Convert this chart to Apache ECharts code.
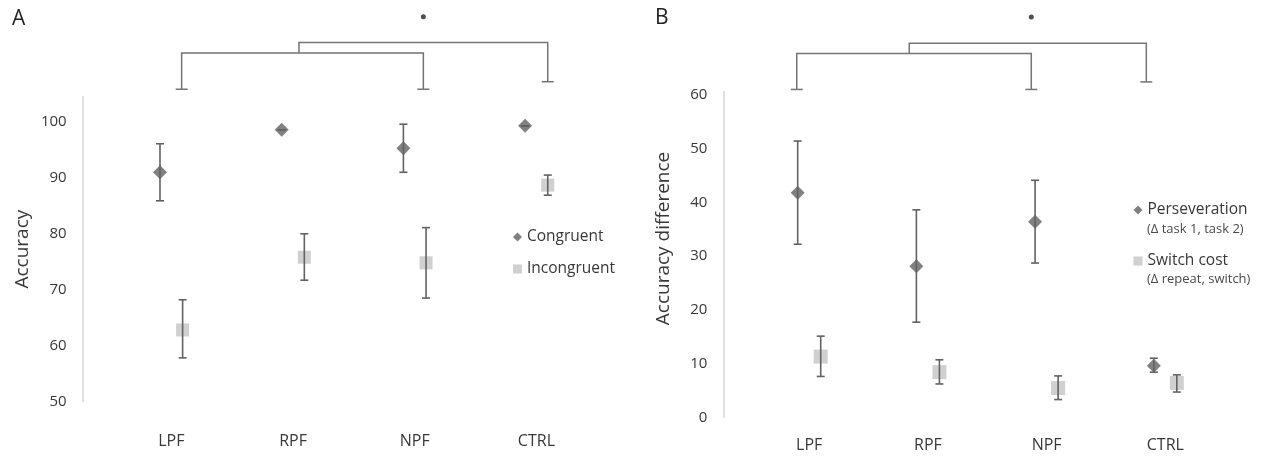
<!DOCTYPE html>
<html lang="en">
  <head>
    <meta charset="UTF-8" />
    <title>Accuracy by lesion group</title>
    <script src="https://cdn.jsdelivr.net/npm/echarts@6/dist/echarts.min.js"></script>
    <style>
      html, body { margin: 0; padding: 0; background: #fff; }
      #main { width: 1267px; height: 456px; }
    </style>
  </head>
  <body>
    <div id="main"></div>
    <script>
      // groups on the x axis (both panels)
      var categories = ["LPF", "RPF", "NPF", "CTRL"];

      // panel A - accuracy
      var congruentMean = [91.0, 98.6, 95.3, 99.3];
      var congruentLow = [85.9, 98.6, 91.0, 99.3];
      var congruentHigh = [96.1, 98.6, 99.6, 99.3];
      var incongruentMean = [62.8, 75.8, 74.8, 88.7];
      var incongruentLow = [57.8, 71.7, 68.5, 86.9];
      var incongruentHigh = [68.2, 80.0, 81.1, 90.5];

      // panel B - accuracy difference
      var persevMean = [41.8, 28.1, 36.4, 9.6];
      var persevLow = [32.2, 17.7, 28.7, 8.4];
      var persevHigh = [51.4, 38.6, 44.1, 11.0];
      var switchMean = [11.3, 8.4, 5.45, 6.4];
      var switchLow = [7.6, 6.2, 3.3, 4.7];
      var switchHigh = [15.1, 10.7, 7.7, 7.9];

      // significance brackets: [xStart, yStart, xEnd, yEnd, level, capStart, capEnd]
      var bracketsA = [
        [1.085, 105.85, 3.071, 105.85, 112.35, 1, 1],
        [2.049, 112.35, 4.093, 107.2, 114.2, 0, 1]
      ];
      var starA = [[3.071, 118.8]];
      var bracketsB = [
        [0.895, 61.0, 2.871, 61.0, 67.7, 1, 1],
        [1.843, 67.7, 3.84, 62.4, 69.6, 0, 1]
      ];
      var starB = [[2.871, 74.5]];

      var FONT = "Open Sans";
      var TEXT = "#383838";
      var DARK = "#626262";
      var LIGHT = "#c4c4c4";
      var OFF_A = 0.093;
      var OFF_B = 0.097;

      function points(mean, off) {
        return mean.map((v, i) => [i + 1 + off, v]);
      }
      function bars(low, high, off) {
        return low.map((v, i) => [i + 1 + off, v, high[i]]);
      }

      function renderErr(params, api) {
        var x = api.value(0);
        var p1 = api.coord([x, api.value(1)]);
        var p2 = api.coord([x, api.value(2)]);
        var w = 4;
        var st = { stroke: DARK, lineWidth: 1.6 };
        return {
          type: "group",
          children: [
            { type: "line", shape: { x1: p1[0], y1: p1[1], x2: p2[0], y2: p2[1] }, style: st },
            { type: "line", shape: { x1: p1[0] - w, y1: p1[1], x2: p1[0] + w, y2: p1[1] }, style: st },
            { type: "line", shape: { x1: p2[0] - w, y1: p2[1], x2: p2[0] + w, y2: p2[1] }, style: st }
          ]
        };
      }

      function renderBracket(params, api) {
        var a = api.coord([api.value(0), api.value(1)]);
        var aTop = api.coord([api.value(0), api.value(4)]);
        var b = api.coord([api.value(2), api.value(3)]);
        var bTop = api.coord([api.value(2), api.value(4)]);
        var st = { stroke: "#747474", lineWidth: 1.5, fill: null };
        var kids = [
          {
            type: "polyline",
            shape: { points: [a, aTop, bTop, b] },
            style: st
          }
        ];
        var w = 6;
        if (api.value(5))
          kids.push({ type: "line", shape: { x1: a[0] - w, y1: a[1], x2: a[0] + w, y2: a[1] }, style: st });
        if (api.value(6))
          kids.push({ type: "line", shape: { x1: b[0] - w, y1: b[1], x2: b[0] + w, y2: b[1] }, style: st });
        return { type: "group", children: kids };
      }

      function xAxis(idx, min, max, margin) {
        return {
          gridIndex: idx,
          type: "value",
          min: min,
          max: max,
          axisLine: { show: false },
          axisTick: { show: false },
          splitLine: { show: false },
          axisLabel: {
            customValues: [1, 2, 3, 4],
            formatter: v => categories[Math.round(v) - 1],
            margin: margin,
            fontFamily: FONT,
            fontSize: 16,
            lineHeight: 18,
            color: TEXT
          }
        };
      }

      function yAxis(idx, min, max, name, gap, pad) {
        return {
          gridIndex: idx,
          type: "value",
          min: min,
          max: max,
          interval: 10,
          name: name,
          nameLocation: "middle",
          nameGap: gap,
          nameTextStyle: { fontFamily: FONT, fontSize: 19, color: TEXT, padding: pad },
          axisLine: { show: true, lineStyle: { color: "#d6d6d6", width: 1.5 } },
          axisTick: { show: false },
          splitLine: { show: false },
          axisLabel: {
            showMaxLabel: false,
            margin: 16,
            fontFamily: FONT,
            fontSize: 15,
            color: TEXT
          }
        };
      }

      var chart = echarts.init(document.getElementById("main"));
      chart.setOption({
        animation: false,
        textStyle: { fontFamily: FONT },
        grid: [
          { left: 82.7, top: 96.8, width: 537.7, height: 304.7 },
          { left: 723.3, top: 91.6, width: 542.9, height: 325.7 }
        ],
        xAxis: [xAxis(0, 0.272, 4.69, 31), xAxis(1, 0.2763, 4.85, 19)],
        yAxis: [
          yAxis(0, 50, 104.5, "Accuracy", 51, 0),
          yAxis(1, 0, 60.6, "Accuracy difference", 50, [0, 0, 0, 32])
        ],
        legend: [
          {
            left: 513,
            top: 228,
            orient: "vertical",
            padding: 0,
            itemWidth: 9,
            itemHeight: 9,
            itemGap: 14,
            textStyle: { fontFamily: FONT, fontSize: 15.5, lineHeight: 18, color: TEXT },
            data: [
              { name: "Congruent", icon: "diamond" },
              { name: "Incongruent", icon: "rect" }
            ]
          },
          {
            left: 1133.5,
            top: 201,
            orient: "vertical",
            padding: 0,
            itemWidth: 9,
            itemHeight: 9,
            itemGap: 33,
            textStyle: { fontFamily: FONT, fontSize: 15.5, lineHeight: 18, color: TEXT },
            data: [
              { name: "Perseveration", icon: "diamond" },
              { name: "Switch cost", icon: "rect" }
            ]
          }
        ],
        graphic: [
          { type: "text", left: 12, top: 9, style: { text: "A", font: "21px " + FONT, fill: "#222" } },
          { type: "text", left: 655, top: 8, style: { text: "B", font: "21px " + FONT, fill: "#222" } },
          { type: "text", left: 1147, top: 223, style: { text: "(\u0394 task 1, task 2)", font: "13px " + FONT, fill: "#4a4a4a" } },
          { type: "text", left: 1147, top: 273, style: { text: "(\u0394 repeat, switch)", font: "13px " + FONT, fill: "#4a4a4a" } }
        ],
        series: [
          {
            name: "Incongruent",
            type: "scatter",
            xAxisIndex: 0,
            yAxisIndex: 0,
            symbol: "rect",
            symbolSize: 13,
            itemStyle: { color: LIGHT },
            data: points(incongruentMean, OFF_A)
          },
          {
            name: "Congruent",
            type: "scatter",
            xAxisIndex: 0,
            yAxisIndex: 0,
            symbol: "diamond",
            symbolSize: 14,
            itemStyle: { color: DARK },
            data: points(congruentMean, -OFF_A)
          },
          {
            type: "custom",
            xAxisIndex: 0,
            yAxisIndex: 0,
            renderItem: renderErr,
            z: 3,
            data: bars(congruentLow, congruentHigh, -OFF_A).concat(bars(incongruentLow, incongruentHigh, OFF_A))
          },
          {
            type: "custom",
            xAxisIndex: 0,
            yAxisIndex: 0,
            clip: false,
            renderItem: renderBracket,
            data: bracketsA
          },
          {
            type: "scatter",
            xAxisIndex: 0,
            yAxisIndex: 0,
            clip: false,
            symbol: "circle",
            symbolSize: 5,
            itemStyle: { color: "#222" },
            data: starA
          },
          {
            name: "Switch cost",
            type: "scatter",
            xAxisIndex: 1,
            yAxisIndex: 1,
            symbol: "rect",
            symbolSize: 14,
            itemStyle: { color: LIGHT },
            data: points(switchMean, OFF_B)
          },
          {
            name: "Perseveration",
            type: "scatter",
            xAxisIndex: 1,
            yAxisIndex: 1,
            symbol: "diamond",
            symbolSize: 14,
            itemStyle: { color: DARK },
            data: points(persevMean, -OFF_B)
          },
          {
            type: "custom",
            xAxisIndex: 1,
            yAxisIndex: 1,
            renderItem: renderErr,
            z: 3,
            data: bars(persevLow, persevHigh, -OFF_B).concat(bars(switchLow, switchHigh, OFF_B))
          },
          {
            type: "custom",
            xAxisIndex: 1,
            yAxisIndex: 1,
            clip: false,
            renderItem: renderBracket,
            data: bracketsB
          },
          {
            type: "scatter",
            xAxisIndex: 1,
            yAxisIndex: 1,
            clip: false,
            symbol: "circle",
            symbolSize: 5,
            itemStyle: { color: "#222" },
            data: starB
          }
        ]
      });
    </script>
  </body>
</html>
